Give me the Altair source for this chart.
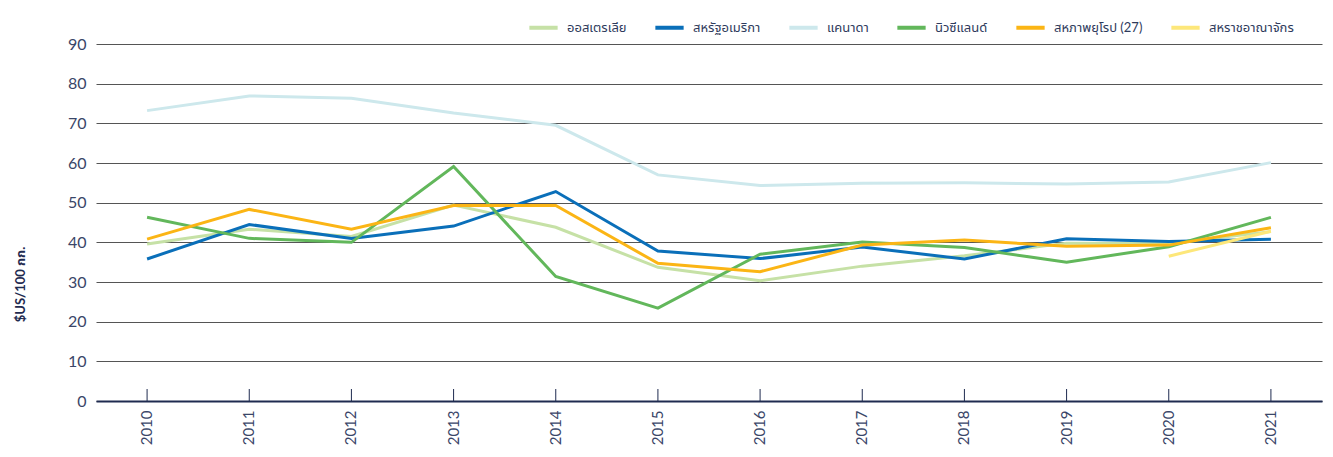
import altair as alt
import pandas as pd

years = [2010, 2011, 2012, 2013, 2014, 2015, 2016, 2017, 2018, 2019, 2020, 2021]
series_names = ["ออสเตรเลีย", "สหรัฐอเมริกา", "แคนาดา", "นิวซีแลนด์", "สหภาพยุโรป (27)", "สหราชอาณาจักร"]
series_colors = ["#c6e1a6", "#0a6fb9", "#cde8ec", "#62b75b", "#fbb515", "#fde77a"]

australia = [39.6, 43.3, 41.5, 49.4, 43.8, 33.7, 30.3, 34.0, 36.6, 39.8, 39.7, 42.7]
usa = [35.8, 44.5, 41.0, 44.1, 52.8, 37.8, 35.9, 38.8, 35.8, 40.9, 40.2, 40.8]
canada = [73.2, 76.9, 76.3, 72.6, 69.5, 57.0, 54.3, 54.9, 55.0, 54.7, 55.2, 60.1]
new_zealand = [46.3, 41.0, 40.0, 59.1, 31.4, 23.4, 37.0, 40.1, 38.7, 35.0, 38.9, 46.3]
eu27 = [40.8, 48.3, 43.3, 49.3, 49.3, 34.7, 32.6, 39.3, 40.6, 39.0, 39.3, 43.7]
uk = [None, None, None, None, None, None, None, None, None, None, 36.5, 42.8]

y_ticks = [0, 10, 20, 30, 40, 50, 60, 70, 80, 90]
y_title = "$US/100 กก."

all_series = [australia, usa, canada, new_zealand, eu27, uk]
rows = []
for order, (name, vals) in enumerate(zip(series_names, all_series)):
    for yr, v in zip(years, vals):
        if v is not None:
            rows.append({"year": str(yr), "value": v, "series": name, "ord": order})
df = pd.DataFrame(rows)
ticks_df = pd.DataFrame({"year": [str(y) for y in years]})

FONT = "Lato, 'Noto Sans Thai', 'Noto Sans', sans-serif"
TEXT = "#3a4668"
NAVY = "#1f2b50"
W, H = 1226, 357

x_enc = alt.X("year:O", sort=[str(y) for y in years],
              scale=alt.Scale(paddingInner=0, paddingOuter=0),
              axis=alt.Axis(title=None, labelAngle=-90, labelAlign="right", labelBaseline="middle",
                            labelPadding=9, tickSize=0, domainColor=NAVY, domainWidth=1.8,
                            labelFontSize=15, labelColor=TEXT, grid=False))

lines = alt.Chart(df).mark_line(strokeWidth=3).encode(
    x=x_enc,
    y=alt.Y("value:Q", scale=alt.Scale(domain=[0, 90], nice=False),
            axis=alt.Axis(values=y_ticks, title=y_title, titleFontSize=13, titleFontWeight="bold",
                          titleColor=NAVY, titleX=-76, titleY=240, titleAngle=270,
                          titleAlign="center", titleBaseline="middle",
                          labelFontSize=16, labelColor=TEXT, labelPadding=10, tickSize=0,
                          domain=False, grid=True, gridColor="#555555", gridWidth=1)),
    color=alt.Color("series:N", sort=series_names,
                    scale=alt.Scale(domain=series_names, range=series_colors),
                    legend=alt.Legend(title=None, orient="none", direction="horizontal",
                                      legendX=431, legendY=-33, symbolType="stroke",
                                      symbolSize=800, symbolStrokeWidth=4, labelFontSize=13,
                                      labelColor="#2e3a5c", columnPadding=20, labelOffset=7,
                                      columns=6)),
    order=alt.Order("ord:Q"),
    detail="series:N",
)

tick_marks = alt.Chart(ticks_df).mark_rule(color=NAVY, strokeWidth=1).encode(
    x=alt.X("year:O", sort=[str(y) for y in years]),
    y=alt.value(H - 12),
    y2=alt.value(H),
)

chart = alt.layer(lines, tick_marks).properties(
    width=W, height=H,
    autosize=alt.AutoSizeParams(type="none"),
    padding={"left": 88, "top": 36, "right": 3, "bottom": 48},
).configure(font=FONT).configure_view(stroke=None)

chart.save("out.html", embed_options={"renderer": "svg", "actions": False})
